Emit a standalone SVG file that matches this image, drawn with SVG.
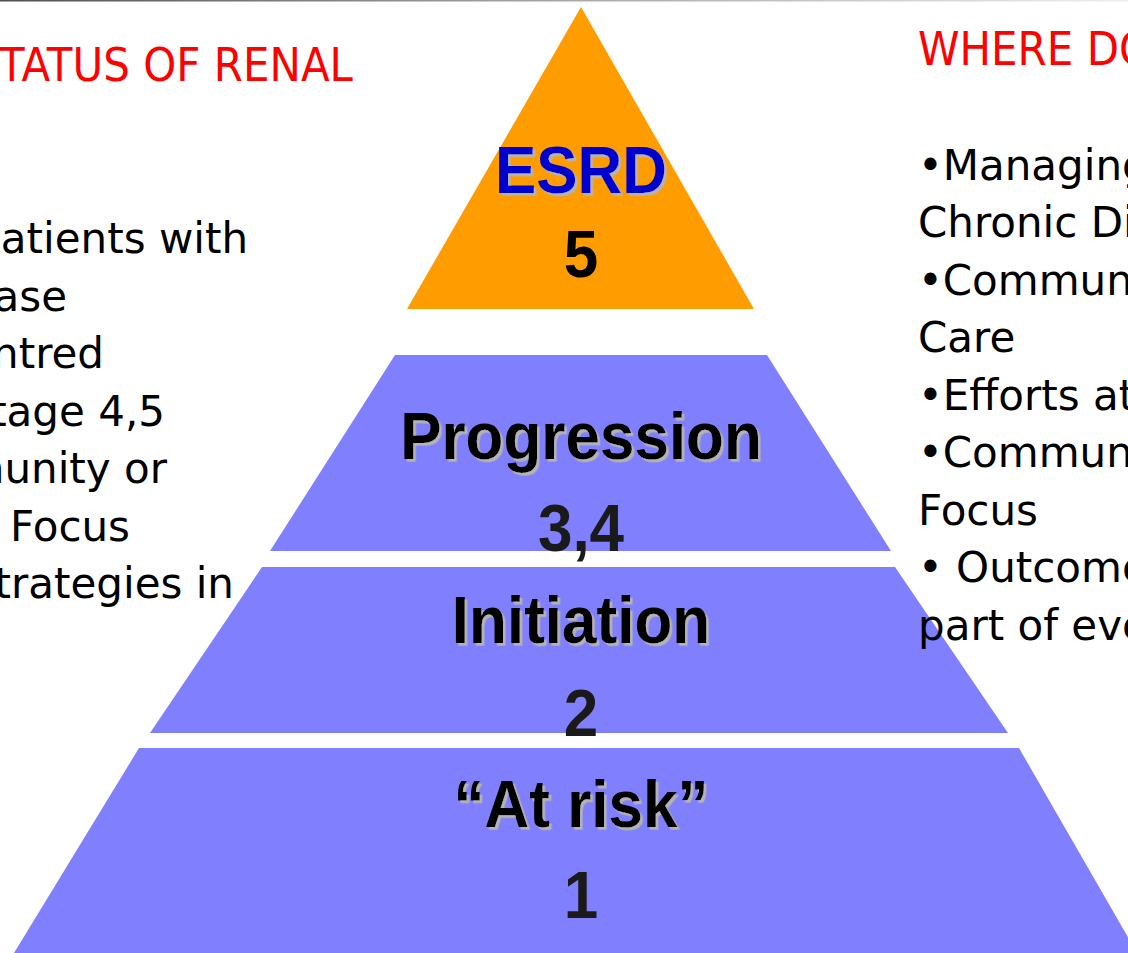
<svg xmlns="http://www.w3.org/2000/svg" width="1128" height="953" viewBox="0 0 1128 953">
  <defs>
    <linearGradient id="topline" x1="0" y1="0" x2="1" y2="0">
      <stop offset="0" stop-color="#505050"/>
      <stop offset="0.5" stop-color="#a8a8a8"/>
      <stop offset="1" stop-color="#eeeeee"/>
    </linearGradient>
    <filter id="shadow" x="-5%" y="-5%" width="115%" height="120%">
      <feDropShadow dx="2.5" dy="2.5" stdDeviation="0" flood-color="#b4b4b4" flood-opacity="1"/>
    </filter>
  </defs>
  <style>
    .head { font-family: "DejaVu Sans", Verdana, sans-serif; font-size: 42px; fill: #ff0000; }
    .body { font-family: "DejaVu Sans", Verdana, sans-serif; font-size: 42px; fill: #000000; }
    .lbl { font-family: "Liberation Sans", Arial, sans-serif; font-weight: bold; font-size: 62px; text-anchor: middle; }
    .name { fill: #000000; filter: url(#shadow); }
    .num { fill: #1a1a1a; }
    .tier { fill: #8080ff; }
  </style>
  <rect x="0" y="0" width="1128" height="953" fill="#ffffff"/>
  <rect x="0" y="0" width="1128" height="1.5" fill="url(#topline)"/>

  <g id="tier-atrisk">
    <polygon class="tier" points="139,748 1019,748 1137,953 14,953"/>
    <text class="lbl name" transform="translate(581,827) scale(1,1.08)">“At risk”</text>
    <text class="lbl num" transform="translate(581,918) scale(1,1.08)">1</text>
  </g>
  <g id="tier-initiation">
    <polygon class="tier" points="262,567 895,567 1008,733 150,733"/>
    <text class="lbl name" transform="translate(581,643) scale(1,1.08)">Initiation</text>
    <text class="lbl num" transform="translate(581,736) scale(1,1.08)">2</text>
  </g>
  <g id="tier-progression">
    <polygon class="tier" points="395,355 767,355 891,551 270,551"/>
    <text class="lbl name" transform="translate(581,459) scale(1,1.08)">Progression</text>
    <text class="lbl num" transform="translate(581,551) scale(1,1.08)">3,4</text>
  </g>
  <g id="tier-esrd">
    <polygon points="581,7 407,309 754,309" fill="#ff9c00"/>
    <text class="lbl name" transform="translate(581,193) scale(1,1.08)" style="fill:#0000cc">ESRD</text>
    <text class="lbl" transform="translate(581,277) scale(1,1.08)" fill="#000000">5</text>
  </g>

  <g id="left-text">
    <text class="head" transform="translate(353,80.5) scale(1,1.12)" text-anchor="end">TATUS OF RENAL</text>
    <g class="body" text-anchor="end">
      <text x="248" y="253">atients with</text>
      <text x="67" y="310.5">ase</text>
      <text x="104" y="368">ntred</text>
      <text x="165" y="425.5">tage 4,5</text>
      <text x="167" y="483">munity or</text>
      <text x="130" y="540.5">Focus</text>
      <text x="234" y="598">trategies in</text>
    </g>
  </g>

  <g id="right-text">
    <text class="head" transform="translate(918,64.5) scale(1,1.12)">WHERE DO</text>
    <g class="body">
      <text x="918" y="179.5">•Managing</text>
      <text x="918" y="237">Chronic Di</text>
      <text x="918" y="294.5">•Commun</text>
      <text x="918" y="352">Care</text>
      <text x="918" y="409.5">•Efforts at</text>
      <text x="918" y="467">•Commun</text>
      <text x="918" y="524.5">Focus</text>
      <text x="918" y="582">• Outcome</text>
      <text x="918" y="639.5">part of eve</text>
    </g>
  </g>
  <g id="connectors"/>
</svg>
